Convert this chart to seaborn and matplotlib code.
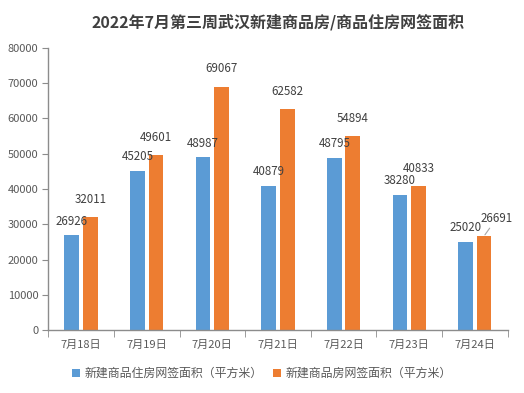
import pandas as pd
import matplotlib.pyplot as plt
import seaborn as sns
from matplotlib.ticker import MultipleLocator, FixedLocator

dates = ["7月18日", "7月19日", "7月20日", "7月21日", "7月22日", "7月23日", "7月24日"]
housing_area = [26926, 45205, 48987, 40879, 48795, 38280, 25020]
all_area = [32011, 49601, 69067, 62582, 54894, 40833, 26691]
series_names = ["新建商品住房网签面积（平方米）", "新建商品房网签面积（平方米）"]

df = pd.DataFrame({
    "date": dates * 2,
    "area": housing_area + all_area,
    "series": [series_names[0]] * len(dates) + [series_names[1]] * len(dates),
})

sns.set_style("white")
plt.rcParams["font.family"] = ["Noto Sans CJK SC", "DejaVu Sans"]

fig, ax = plt.subplots(figsize=(5.24, 3.93), dpi=100)
fig.subplots_adjust(left=0.092, right=0.969, top=0.878, bottom=0.160)

sns.barplot(data=df, x="date", y="area", hue="series", order=dates,
            hue_order=series_names, palette=["#5b9bd5", "#ed7d31"],
            width=0.56, gap=0.2, saturation=1, linewidth=0, ax=ax)

# data labels above bars
for i, cont in enumerate(ax.containers):
    for j, bar in enumerate(cont):
        h = bar.get_height()
        x = bar.get_x() + bar.get_width() / 2
        if i == 1 and j == 6:
            ax.annotate(f"{int(h)}", (x, h), xytext=(9, 8), textcoords="offset points",
                        ha="center", va="bottom", fontsize=8.3, color="#404040",
                        arrowprops=dict(arrowstyle="-", color="#a6a6a6", lw=0.8,
                                        shrinkA=0, shrinkB=1))
        else:
            dy = 5.5 if i == 0 else 8
            ax.annotate(f"{int(h)}", (x, h), xytext=(0, dy), textcoords="offset points",
                        ha="center", va="bottom", fontsize=8.3, color="#404040")

ax.set_ylim(0, 80000)
ax.set_xlim(-0.5, 6.5)
ax.yaxis.set_major_locator(MultipleLocator(10000))
ax.set_xlabel("")
ax.set_ylabel("")

for side in ["top", "right"]:
    ax.spines[side].set_visible(False)
for side in ["left", "bottom"]:
    ax.spines[side].set_color("#8c8c8c")
    ax.spines[side].set_linewidth(1.0)

ax.tick_params(axis="y", left=True, length=4, color="#8c8c8c", labelsize=8,
               labelcolor="#595959", pad=3)
ax.tick_params(axis="x", which="major", length=0, labelsize=8,
               labelcolor="#595959", pad=7)
ax.xaxis.set_minor_locator(FixedLocator([k - 0.5 for k in range(len(dates) + 1)]))
ax.tick_params(axis="x", which="minor", bottom=True, length=5, color="#8c8c8c")

ax.set_title("2022年7月第三周武汉新建商品房/商品住房网签面积", fontsize=11.5,
             fontweight="bold", color="#404040", pad=15)

ax.legend(loc="lower center", bbox_to_anchor=(0.465, -0.215), ncol=2, frameon=False,
          fontsize=8.6, handlelength=0.65, handleheight=0.65, handletextpad=0.35,
          columnspacing=0.9, labelcolor="#595959")

fig.savefig("out.png", dpi=100)
